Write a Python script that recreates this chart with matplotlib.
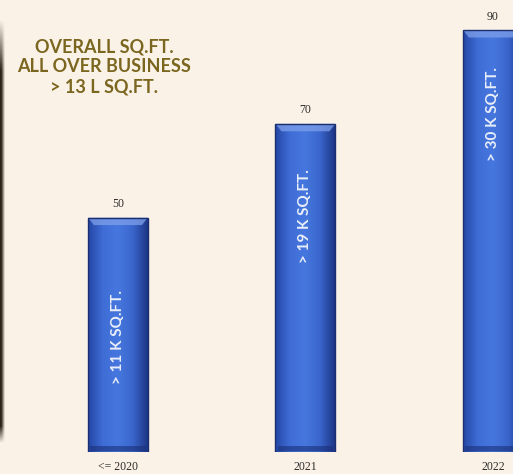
import numpy as np
import matplotlib.pyplot as plt
from matplotlib.colors import LinearSegmentedColormap

# chart data
categories = ['<= 2020', '2021', '2022']
values = [50, 70, 90]
inner_labels = ['> 11 K SQ.FT.', '> 19 K SQ.FT.', '> 30 K SQ.FT.']
title_lines = ['OVERALL SQ.FT.', 'ALL OVER BUSINESS', '> 13 L SQ.FT.']

# where the rotated text sits inside each bar (fraction of bar height)
inner_label_pos = [0.49, 0.72, 0.80]

bg = '#fbf2e7'
bar_cmap = LinearSegmentedColormap.from_list(
    'bar', ['#2446a4', '#3f6dd6', '#4677de', '#3a66cc', '#1d3686'])

fig = plt.figure(figsize=(5.13, 4.74), dpi=100, facecolor=bg)

# dark strip on the left edge, fading at both ends
edge = fig.add_axes([0, 30 / 474, 6 / 513, 425 / 474])
t = np.linspace(0, 1, 200)
fade = np.clip(t / 0.12, 0, 1) * np.clip((1 - t) / 0.04, 0, 1)
across = np.clip(np.linspace(1.3, -0.2, 10), 0, 1)[None, :]
shade = fade[:, None] * across
edge.imshow(shade, aspect='auto', cmap=LinearSegmentedColormap.from_list(
    'edge', [bg, '#2b2319']), extent=(0, 1, 0, 1), vmin=0, vmax=1)
edge.axis('off')

ax = fig.add_axes([0, 22 / 474, 1, 1 - 22 / 474])
ax.set_facecolor('none')
ax.set_xlim(-0.629, 2.107)
ax.set_ylim(0, 96.4)
ax.axis('off')

x = np.arange(len(categories))
width = 0.32
bars = ax.bar(x, values, width=width, color='#3a66cc',
              edgecolor='#1b2f6e', linewidth=1.0, zorder=2)

grad = np.linspace(0, 1, 256)[None, :]
for rect in bars:
    x0, w, h = rect.get_x(), rect.get_width(), rect.get_height()
    im = ax.imshow(grad, cmap=bar_cmap, aspect='auto',
                   extent=(x0, x0 + w, 0, h), zorder=3)
    im.set_clip_path(rect)
    # light bevel along the top
    ax.fill([x0, x0 + w, x0 + w * 0.9, x0 + w * 0.1], [h, h, h - 1.6, h - 1.6],
            color='#7fa0ea', alpha=0.75, zorder=4, linewidth=0)
    # slightly darker bottom
    ax.fill_between([x0 + w * 0.04, x0 + w * 0.96], 0.2, 1.2,
                    color='#1a3078', alpha=0.6, zorder=4, linewidth=0)
    rect.set_zorder(5)
    rect.set_facecolor('none')

for xi, v, lab, pos in zip(x, values, inner_labels, inner_label_pos):
    ax.text(xi, v + 1.6, str(v), ha='center', va='bottom',
            family='Liberation Serif', fontsize=8.5, color='#2a2a2a', zorder=6)
    ax.text(xi, v * pos, lab, ha='center', va='center', rotation=90,
            family='Lato', fontweight='bold', fontsize=11,
            color='#e9eefa', zorder=6)

for xi, cat in zip(x, categories):
    ax.text(xi, -3.1, cat, ha='center', va='center',
            family='Liberation Serif', fontsize=8.5, color='#2a2a2a',
            clip_on=False)

for i, line in enumerate(title_lines):
    fig.text(104 / 513, 1 - (47 + 20 * i) / 474, line, ha='center',
             va='center', family='Lato', fontweight='bold', fontsize=13,
             color='#7a661e')

fig.savefig('out.png', dpi=100, facecolor=bg)
